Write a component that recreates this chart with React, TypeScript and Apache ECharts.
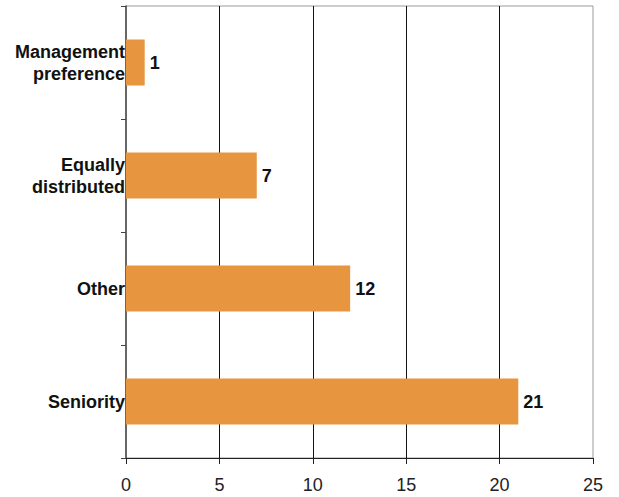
import React, { useEffect, useRef } from "react";
import * as echarts from "echarts";

// Categories listed bottom-to-top as the value axis draws them
const categories = ["Seniority", "Other", "Equally\ndistributed", "Management\npreference"];
const counts = [21, 12, 7, 1];
const xTicks = { min: 0, max: 25, interval: 5 };

export default function App() {
  const ref = useRef<HTMLDivElement>(null);

  useEffect(() => {
    if (!ref.current) return;
    const chart = echarts.init(ref.current, undefined, { renderer: "svg" });
    const font = "Liberation Sans, Arial, sans-serif";
    chart.setOption({
      animation: false,
      grid: {
        left: 126,
        right: 26,
        top: 6,
        bottom: 39,
        show: true,
        borderColor: "#9a9a9a",
        borderWidth: 1,
        containLabel: false,
      },
      xAxis: {
        type: "value",
        min: xTicks.min,
        max: xTicks.max,
        interval: xTicks.interval,
        axisLine: { show: true, lineStyle: { color: "#222", width: 1 } },
        axisTick: { show: true, length: 6, lineStyle: { color: "#222" } },
        axisLabel: {
          color: "#222",
          fontFamily: font,
          fontSize: 18,
          margin: 18,
        },
        splitLine: {
          show: true,
          showMinLine: false,
          showMaxLine: false,
          lineStyle: { color: "#111", width: 1 },
        },
      },
      yAxis: {
        type: "category",
        data: categories,
        axisLine: { show: true, lineStyle: { color: "#444", width: 1.5 } },
        axisTick: { show: true, length: 5, inside: false, lineStyle: { color: "#444" } },
        axisLabel: {
          color: "#111",
          fontFamily: font,
          fontSize: 18,
          fontWeight: "bold",
          lineHeight: 22,
          margin: 1,
          align: "right",
        },
        splitLine: { show: false },
      },
      series: [
        {
          type: "bar",
          data: counts,
          barWidth: 46,
          itemStyle: { color: "#E8953F" },
          label: {
            show: true,
            position: "right",
            distance: 5,
            color: "#111",
            fontFamily: font,
            fontSize: 18,
            fontWeight: "bold",
          },
        },
      ],
    });
    return () => chart.dispose();
  }, []);

  return <div ref={ref} style={{ width: 619, height: 497, position: "absolute", left: 0, top: 0 }} />;
}
